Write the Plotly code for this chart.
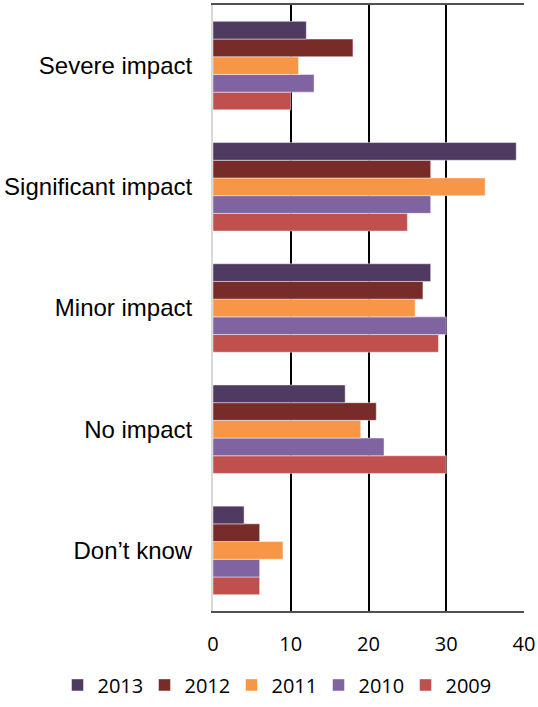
import plotly.graph_objects as go

categories = ["Severe impact", "Significant impact", "Minor impact", "No impact", "Don\u2019t know"]
years = ["2009", "2010", "2011", "2012", "2013"]
values = {
    "2013": [12, 39, 28, 17, 4],
    "2012": [18, 28, 27, 21, 6],
    "2011": [11, 35, 26, 19, 9],
    "2010": [13, 28, 30, 22, 6],
    "2009": [10, 25, 29, 30, 6],
}
colors = {
    "2013": "#4F3B62",
    "2012": "#772C2A",
    "2011": "#F79646",
    "2010": "#8064A2",
    "2009": "#C0504D",
}
x_ticks = [0, 10, 20, 30, 40]

fig = go.Figure()
for yr in years:
    fig.add_trace(go.Bar(
        y=categories, x=values[yr], name=yr, orientation="h",
        marker=dict(color=colors[yr], line=dict(color="rgba(255,255,255,0.45)", width=1)),
    ))

fig.update_layout(
    width=538, height=707,
    margin=dict(l=213, r=12, t=3, b=96),
    plot_bgcolor="white", paper_bgcolor="white",
    barmode="group", bargap=0.27, bargroupgap=0,
    showlegend=True,
    legend=dict(orientation="h", traceorder="reversed",
                xref="paper", x=-0.50, xanchor="left",
                yref="paper", y=-0.122, yanchor="middle",
                font=dict(family="Open Sans", size=20, color="#000"),
                itemwidth=30, entrywidth=42),
    xaxis=dict(range=[0, 40], tickvals=x_ticks, showgrid=True, gridcolor="#000", gridwidth=1.5,
               zeroline=False, showline=True, linecolor="#505050", linewidth=1.5, mirror=True,
               ticks="", ticklabelstandoff=14,
               tickfont=dict(family="Open Sans", size=20, color="#000")),
    yaxis=dict(categoryorder="array", categoryarray=categories[::-1],
               showline=True, linecolor="#D9D9D9", linewidth=2, showgrid=False,
               ticks="", ticklabelstandoff=14,
               tickfont=dict(family="Liberation Sans", size=24, color="#000")),
)
fig.write_html("out.html")
